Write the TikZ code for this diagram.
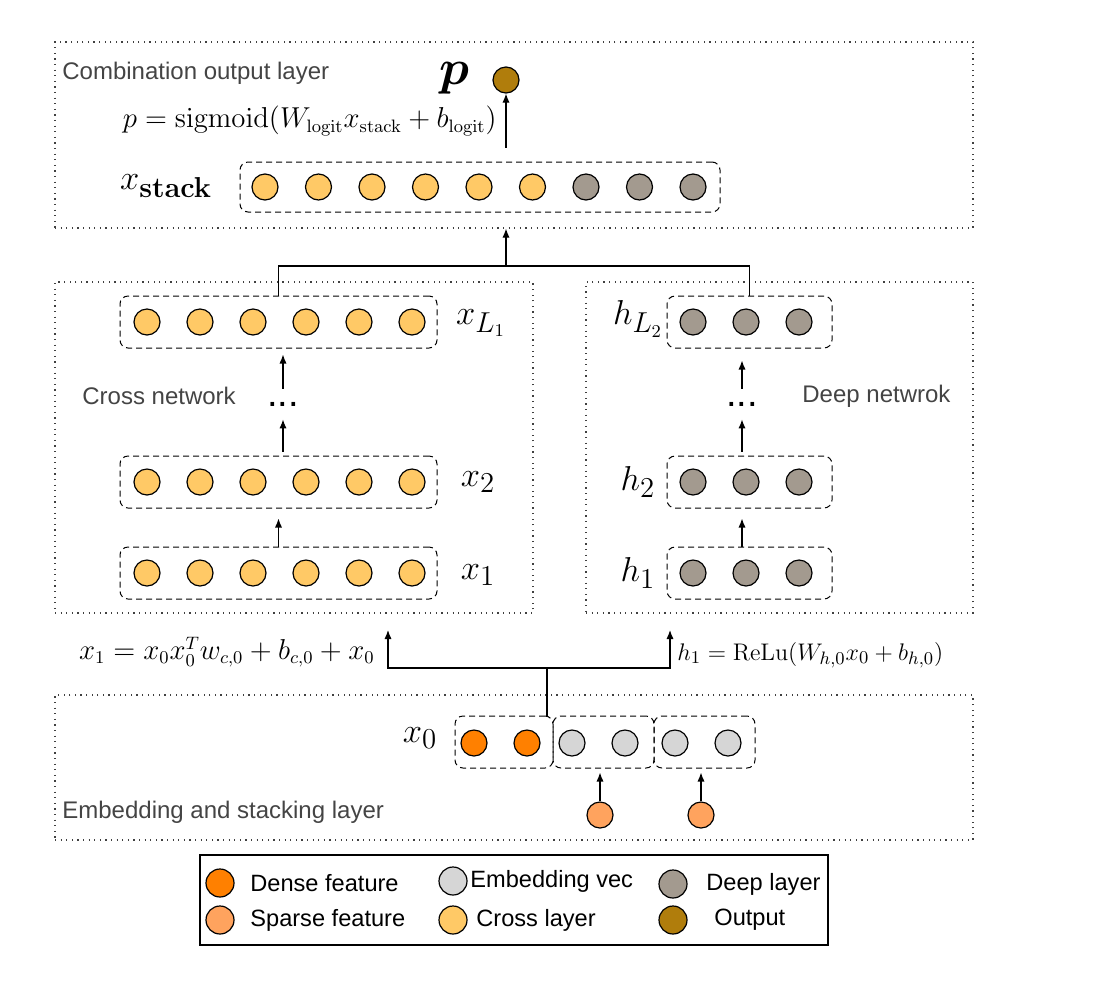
\documentclass[tikz,border=0pt]{standalone}
\usepackage{amsmath}
\usepackage{bm}
\usepackage[no-math]{fontspec}
\setmainfont{Liberation Sans}
\usepackage{xcolor}
\usepackage{tikz}
\usetikzlibrary{arrows.meta}
\definecolor{denseOrange}{HTML}{FF8000}
\definecolor{sparseOrange}{HTML}{FFA35E}
\definecolor{embedGrey}{HTML}{D6D6D6}
\definecolor{crossYellow}{HTML}{FFC966}
\definecolor{deepGrey}{HTML}{A39A8F}
\definecolor{outBrown}{HTML}{B07D0C}
\definecolor{layerGrey}{HTML}{444444}
\tikzset{
  unit/.style={circle, draw=black, line width=0.6pt, fill=#1, minimum size=13pt, inner sep=0pt},
  keyunit/.style={unit=#1, minimum size=14pt},
  grpbox/.style 2 args={rectangle, rounded corners=4pt, draw=black, dash pattern=on 3pt off 2pt, line width=0.5pt, minimum width=#1, minimum height=#2, inner sep=0pt},
  layerbox/.style 2 args={rectangle, draw=black!75, dash pattern=on 0.6pt off 2.2pt, line width=0.6pt, minimum width=#1, minimum height=#2, inner sep=0pt},
  layerlabel/.style={font=\fontsize{12}{14}\selectfont, text=layerGrey, anchor=west, inner sep=0pt},
  legendlabel/.style={font=\fontsize{11.8}{14}\selectfont, anchor=west, inner sep=0pt},
  vecname/.style={font=\fontsize{19}{22}\selectfont, inner sep=0pt},
  eqlabel/.style={font=\fontsize{13.5}{16}\selectfont, inner sep=0pt},
  flowarrow/.style={-{Latex[length=4.5pt,width=3.6pt]}, line width=0.6pt},
  flowline/.style={line width=0.6pt},
}

\begin{document}
\begin{tikzpicture}[x=0.5pt,y=-0.5pt]
  \useasboundingbox (0,0) rectangle (1096,986);

  % --- layer frames ---
  \node[layerbox={459pt}{93pt}] (comb) at (514,135) {};
  \node[layerbox={239pt}{165.5pt}] (crossnet) at (294,447.5) {};
  \node[layerbox={193.5pt}{165.5pt}] (deepnet) at (779.5,447.5) {};
  \node[layerbox={459pt}{72.5pt}] (embed) at (514,767.5) {};

  \node[layerlabel] (combtxt) at (62,73) {Combination output layer};
  \node[layerlabel] (crosstxt) at (82,396) {Cross network};
  \node[layerlabel] (deeptxt) at (802,396) {Deep netwrok};
  \node[layerlabel] (embedtxt) at (62,812) {Embedding and stacking layer};

  % --- combination output layer ---
  \node[grpbox={240pt}{25pt}] (stack) at (480,187) {};
  \foreach \i in {0,...,5}
    \node[unit=crossYellow] (s\i) at (265+53.5*\i,187) {};
  \foreach \i in {6,7,8}
    \node[unit=deepGrey] (s\i) at (265+53.5*\i,187) {};
  \node[vecname] (stacktxt) at (166,186) {$x_{\mathbf{stack}}$};
  \node[unit=outBrown] (pout) at (506,80) {};
  \node[vecname, font=\fontsize{23}{26}\selectfont] (ptxt) at (454,78) {$\bm{p}$};
  \node[eqlabel, anchor=east] (peq) at (497,121) {$p=\mathrm{sigmoid}(W_{\mathrm{logit}}x_{\mathrm{stack}}+b_{\mathrm{logit}})$};
  \draw[flowarrow, shorten <=7pt] (pout |- stack.north) -- (pout);

  % --- cross network ---
  \node[grpbox={158.5pt}{26pt}] (xl1) at (278.5,322) {};
  \node[grpbox={158.5pt}{26pt}] (x2) at (278.5,482) {};
  \node[grpbox={158.5pt}{26pt}] (x1) at (278.5,573) {};
  \foreach \i in {0,...,5} {
    \node[unit=crossYellow] (xl1c\i) at (147+53*\i,322) {};
    \node[unit=crossYellow] (x2c\i) at (147+53*\i,482) {};
    \node[unit=crossYellow] (x1c\i) at (147+53*\i,573) {};
  }
  \node[vecname] (xl1txt) at (481,323) {$x_{L_1}$};
  \node[vecname] (x2txt) at (478,482) {$x_2$};
  \node[vecname] (x1txt) at (478,575) {$x_1$};
  \node[vecname, minimum height=15pt] (xdots) at (283,404) {...};
  \draw[flowarrow, shorten >=5pt] (x1.north) -- (x2.south);
  \draw[flowarrow, shorten <=2pt] (xdots |- x2.north) -- (xdots);
  \draw[flowarrow, shorten >=3pt] (xdots) -- (xdots |- xl1.south);

  % --- deep network ---
  \node[grpbox={82.5pt}{26pt}] (hl2) at (749.5,322) {};
  \node[grpbox={82.5pt}{26pt}] (h2) at (749.5,482) {};
  \node[grpbox={82.5pt}{26pt}] (h1) at (749.5,573) {};
  \foreach \i in {0,1,2} {
    \node[unit=deepGrey] (hl2c\i) at (693+53*\i,322) {};
    \node[unit=deepGrey] (h2c\i) at (693+53*\i,482) {};
    \node[unit=deepGrey] (h1c\i) at (693+53*\i,573) {};
  }
  \node[vecname] (hl2txt) at (638,319) {$h_{L_2}$};
  \node[vecname] (h2txt) at (638,482) {$h_2$};
  \node[vecname] (h1txt) at (638,573) {$h_1$};
  \node[vecname, minimum height=15pt] (hdots) at (742,404) {...};
  \draw[flowarrow, shorten >=5pt] (h1.north -| hdots) -- (h2.south -| hdots);
  \draw[flowarrow, shorten <=2pt] (hdots |- h2.north) -- (hdots);
  \draw[flowarrow, shorten >=6pt] (hdots) -- (hdots |- hl2.south);

  % --- merge into stack ---
  \coordinate (merge) at (506,266);
  \draw[flowline] (xl1.north) |- (merge) -| (hl2.north);
  \draw[flowarrow] (merge) -- (merge |- comb.south);

  % --- embedding and stacking layer ---
  \node[grpbox={49pt}{26pt}] (g1) at (504,742) {};
  \node[grpbox={50.5pt}{26pt}] (g2) at (603.5,742) {};
  \node[grpbox={50.5pt}{26pt}] (g3) at (704.5,742) {};
  \node[unit=denseOrange] (d1) at (474,743) {};
  \node[unit=denseOrange] (d2) at (527,743) {};
  \node[unit=embedGrey] (e1) at (572,743) {};
  \node[unit=embedGrey] (e2) at (625,743) {};
  \node[unit=embedGrey] (e3) at (675,743) {};
  \node[unit=embedGrey] (e4) at (728,743) {};
  \node[unit=sparseOrange] (sp1) at (600,815) {};
  \node[unit=sparseOrange] (sp2) at (701,815) {};
  \node[vecname] (x0txt) at (420,738) {$x_0$};
  \draw[flowarrow, shorten >=2pt] (sp1) -- (sp1 |- g2.south);
  \draw[flowarrow, shorten >=2pt] (sp2) -- (sp2 |- g3.south);

  % --- split to both networks ---
  \coordinate (split) at (547,668);
  \coordinate (crossin) at (388,630);
  \coordinate (deepin) at (670,630);
  \draw[flowline] (split) -- (split |- g1.north);
  \draw[flowarrow] (split) -| (crossin);
  \draw[flowarrow] (split) -| (deepin);
  \node[eqlabel, anchor=east] (x1eq) at (375,652) {$x_1=x_0x_0^Tw_{c,0}+b_{c,0}+x_0$};
  \node[eqlabel, anchor=west, font=\fontsize{12.3}{15}\selectfont] (h1eq) at (677,655) {$h_1=\mathrm{ReLu}(W_{h,0}x_0+b_{h,0})$};

  % --- legend ---
  \node[rectangle, draw=black, line width=0.6pt, minimum width=314pt, minimum height=45pt, inner sep=0pt] (legend) at (514,900) {};
  \node[keyunit=denseOrange] (ld) at (220,883) {};
  \node[legendlabel] (ldtxt) at (250,883) {Dense feature};
  \node[keyunit=sparseOrange] (ls) at (220,920) {};
  \node[legendlabel] (lstxt) at (250,920) {Sparse feature};
  \node[keyunit=embedGrey] (le) at (453,881) {};
  \node[legendlabel] (letxt) at (470,881) {Embedding vec};
  \node[keyunit=crossYellow] (lc) at (453,920) {};
  \node[legendlabel] (lctxt) at (476,920) {Cross layer};
  \node[keyunit=deepGrey] (lg) at (673,884) {};
  \node[legendlabel] (lgtxt) at (706,884) {Deep layer};
  \node[keyunit=outBrown] (lo) at (673,920) {};
  \node[legendlabel] (lotxt) at (714,920) {Output};
\end{tikzpicture}
\end{document}
